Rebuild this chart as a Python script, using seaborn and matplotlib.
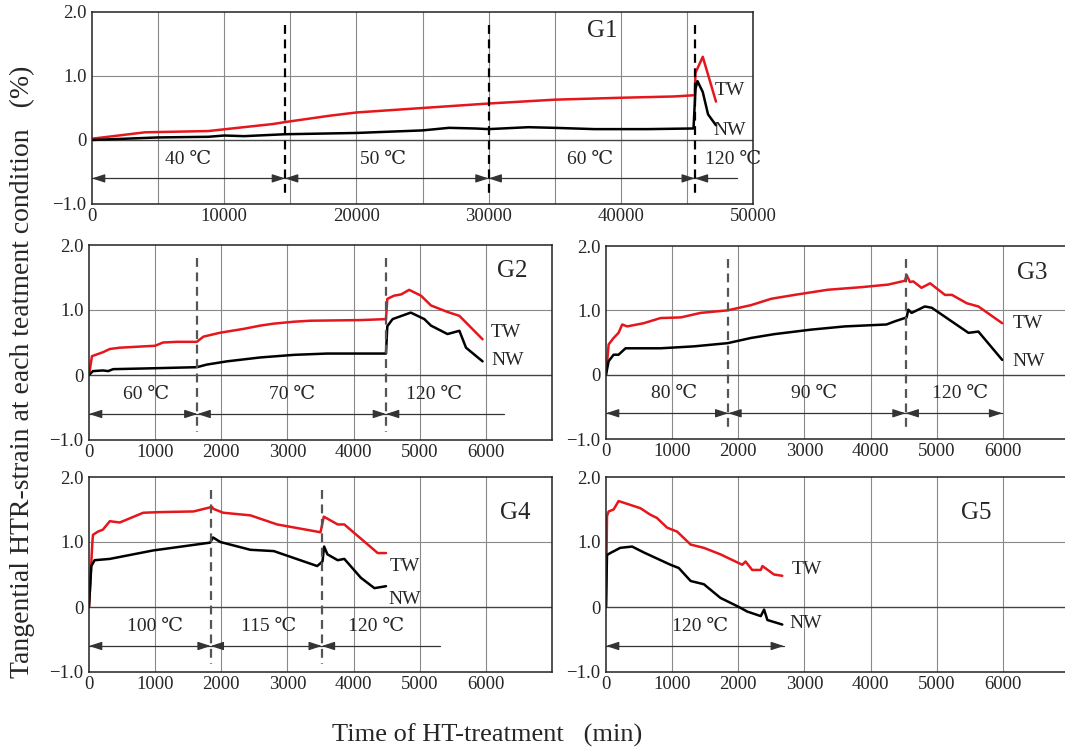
import matplotlib
matplotlib.use("Agg")
import numpy as np
import pandas as pd
import seaborn as sns
from matplotlib import pyplot as plt

# ---- data (time in min, strain in %) ----
G1_TW_X = [0, 4000, 8800, 13700, 14600, 18000, 20000, 25000, 30000, 35000, 40000, 44000, 45600, 45650, 46200, 47200]
G1_TW_Y = [0.02, 0.12, 0.14, 0.25, 0.28, 0.38, 0.43, 0.50, 0.57, 0.63, 0.66, 0.68, 0.70, 1.05, 1.30, 0.60]
G1_NW_X = [0, 5000, 8800, 10000, 11500, 14600, 20000, 25000, 27000, 29000, 30000, 33000, 35000, 38000, 42000, 45500, 45650, 45800, 46200, 46600, 47200]
G1_NW_Y = [0.0, 0.04, 0.05, 0.07, 0.06, 0.09, 0.11, 0.15, 0.19, 0.18, 0.17, 0.20, 0.19, 0.17, 0.17, 0.18, 0.80, 0.92, 0.75, 0.40, 0.23]

G2_TW_X = [0, 45, 210, 315, 465, 1000, 1120, 1325, 1630, 1730, 1980, 2340, 2590, 2790, 3100, 3350, 4110, 4490, 4510, 4610, 4720, 4840, 5020, 5170, 5420, 5600, 5950]
G2_TW_Y = [0, 0.29, 0.35, 0.40, 0.42, 0.45, 0.50, 0.51, 0.51, 0.59, 0.65, 0.71, 0.76, 0.79, 0.82, 0.835, 0.845, 0.86, 1.17, 1.22, 1.24, 1.31, 1.22, 1.07, 0.97, 0.91, 0.55]
G2_NW_X = [0, 60, 210, 290, 365, 820, 1630, 1780, 2085, 2590, 3100, 3600, 4490, 4510, 4590, 4865, 5070, 5170, 5420, 5600, 5700, 5950]
G2_NW_Y = [0, 0.06, 0.07, 0.06, 0.09, 0.10, 0.12, 0.16, 0.21, 0.27, 0.31, 0.33, 0.33, 0.75, 0.86, 0.96, 0.86, 0.76, 0.63, 0.68, 0.42, 0.21]

G3_TW_X = [0, 40, 115, 190, 245, 320, 570, 825, 1130, 1430, 1840, 2190, 2500, 2850, 3355, 3860, 4265, 4520, 4545, 4595, 4645, 4770, 4900, 5125, 5230, 5455, 5630, 5990]
G3_TW_Y = [0, 0.47, 0.57, 0.65, 0.78, 0.75, 0.80, 0.88, 0.89, 0.96, 1.00, 1.08, 1.18, 1.24, 1.32, 1.36, 1.40, 1.46, 1.55, 1.44, 1.45, 1.35, 1.42, 1.24, 1.24, 1.11, 1.06, 0.80]
G3_NW_X = [0, 40, 115, 190, 295, 825, 1330, 1840, 2190, 2545, 3100, 3610, 4240, 4370, 4545, 4570, 4620, 4820, 4925, 5480, 5630, 5990]
G3_NW_Y = [0, 0.21, 0.31, 0.31, 0.41, 0.41, 0.44, 0.49, 0.57, 0.63, 0.70, 0.75, 0.78, 0.83, 0.89, 1.01, 0.96, 1.06, 1.04, 0.65, 0.67, 0.23]

G4_TW_X = [0, 50, 60, 135, 210, 315, 465, 820, 1075, 1580, 1860, 1880, 2030, 2440, 2845, 3500, 3550, 3760, 3860, 4365, 4490]
G4_TW_Y = [0, 0.98, 1.11, 1.16, 1.19, 1.32, 1.30, 1.45, 1.46, 1.47, 1.54, 1.51, 1.45, 1.41, 1.27, 1.15, 1.39, 1.27, 1.27, 0.83, 0.83]
G4_NW_X = [0, 35, 85, 315, 970, 1830, 1875, 1985, 2440, 2795, 3450, 3530, 3555, 3605, 3760, 3860, 4110, 4315, 4490]
G4_NW_Y = [0, 0.63, 0.72, 0.74, 0.87, 0.99, 1.07, 1.00, 0.88, 0.86, 0.63, 0.70, 0.93, 0.81, 0.72, 0.74, 0.45, 0.29, 0.32]

G5_TW_X = [0, 15, 40, 115, 190, 520, 670, 770, 925, 1075, 1280, 1480, 1730, 2060, 2110, 2210, 2340, 2365, 2540, 2665]
G5_TW_Y = [0, 1.40, 1.47, 1.50, 1.63, 1.52, 1.42, 1.37, 1.22, 1.16, 0.96, 0.91, 0.81, 0.65, 0.70, 0.57, 0.57, 0.63, 0.50, 0.48]
G5_NW_X = [0, 15, 65, 215, 395, 570, 975, 1100, 1280, 1480, 1730, 2010, 2135, 2340, 2390, 2440, 2665]
G5_NW_Y = [0, 0.80, 0.83, 0.91, 0.93, 0.84, 0.65, 0.60, 0.40, 0.35, 0.14, 0.0, -0.07, -0.14, -0.04, -0.20, -0.27]

# stage boundaries (min) and treatment temperatures
G1_BOUNDS = [14600, 30000, 45600]
G2_BOUNDS = [1640, 4490]
G3_BOUNDS = [1850, 4530]
G4_BOUNDS = [1840, 3520]
G5_BOUNDS = []
G1_TEMPS = ['40 ℃', '50 ℃', '60 ℃', '120 ℃']
G2_TEMPS = ['60 ℃', '70 ℃', '120 ℃']
G3_TEMPS = ['80 ℃', '90 ℃', '120 ℃']
G4_TEMPS = ['100 ℃', '115 ℃', '120 ℃']
G5_TEMPS = ['120 ℃']

RED = '#e5161c'
W, H = 1065, 751


def px_rect(left, right, top, bottom):
    return [left / W, (H - bottom) / H, (right - left) / W, (bottom - top) / H]


def arrow(ax, x0, x1, y, heads, color):
    # horizontal dimension line, heads = (left, right)
    ax.plot([x0, x1], [y, y], color=color, lw=0.9)
    kw = dict(arrowstyle='-|>,head_length=0.55,head_width=0.18', color=color, lw=0.9,
              shrinkA=0, shrinkB=0, mutation_scale=14)
    span = (x1 - x0)
    d = 0.06 * span if span < 10000 else 0.03 * span
    if heads[0]:
        ax.annotate('', xy=(x0, y), xytext=(x0 + d, y), arrowprops=kw)
    if heads[1]:
        ax.annotate('', xy=(x1, y), xytext=(x1 - d, y), arrowprops=kw)


def panel(ax, tw_x, tw_y, nw_x, nw_y, xmax, xstep, label_step, name, name_xy,
          bounds, temps, temp_x, arrow_end, last_head, tw_xy, nw_xy, dash_color, right_spine=True):
    df_tw = pd.DataFrame({'t': tw_x, 's': tw_y})
    df_nw = pd.DataFrame({'t': nw_x, 's': nw_y})
    sns.lineplot(data=df_tw, x='t', y='s', ax=ax, color=RED, lw=1.8, sort=False, estimator=None)
    sns.lineplot(data=df_nw, x='t', y='s', ax=ax, color='black', lw=1.8, sort=False, estimator=None)

    ax.set_xlim(0, xmax)
    ax.set_ylim(-1.0, 2.0)
    xt = np.arange(0, xmax + 1, xstep)
    ax.set_xticks(xt)
    labels = []
    for v in xt:
        show = v % label_step == 0 and (xmax > 7000 or v < 7000)
        labels.append(f'{int(v)}' if show else '')
    ax.set_xticklabels(labels)
    ax.set_yticks([-1.0, 0, 1.0, 2.0])
    ax.set_yticklabels(['\u22121.0', '0', '1.0', '2.0'])
    ax.set_yticks([-0.5, 0.5, 1.5], minor=True)
    ax.tick_params(axis='y', which='major', direction='in', length=9, width=1.2, labelsize=13.5, pad=4)
    ax.tick_params(axis='y', which='minor', direction='in', length=6, width=1.2)
    ax.tick_params(axis='x', which='major', direction='in', length=6, width=1.2, labelsize=13.5, pad=3)
    ax.set_xlabel('')
    ax.set_ylabel('')

    for v in xt[1:]:
        if v < xmax:
            ax.axvline(v, color='#8a8a8a', lw=0.8, zorder=0)
    ax.axhline(1.0, color='#8a8a8a', lw=0.8, zorder=0)
    ax.axhline(0.0, color='#444444', lw=1.0, zorder=0)

    for s in ax.spines.values():
        s.set_color('#222222')
        s.set_linewidth(1.1)
    ax.spines['right'].set_visible(right_spine)

    for b in bounds:
        ax.plot([b, b], [1.8, -0.87], color=dash_color, lw=1.6, ls=(0, (4, 2.5)), zorder=3)

    edges = [0] + bounds + [arrow_end]
    for i in range(len(edges) - 1):
        last = i == len(edges) - 2
        arrow(ax, edges[i], edges[i + 1], -0.6, (True, (not last) or last_head), '#333333')
    for t, x in zip(temps, temp_x):
        ax.text(x, -0.3, t, ha='center', va='center', fontsize=14)

    ax.text(*name_xy, name, ha='center', va='center', fontsize=18)
    ax.text(*tw_xy, 'TW', ha='left', va='center', fontsize=14)
    ax.text(*nw_xy, 'NW', ha='left', va='center', fontsize=14)


sns.set_style('white')
plt.rcParams['font.family'] = ['Liberation Serif', 'DejaVu Serif', 'DejaVu Sans']
plt.rcParams['axes.unicode_minus'] = True

fig = plt.figure(figsize=(W / 100, H / 100), dpi=100)
ax1 = fig.add_axes(px_rect(92, 753, 12, 204))
ax2 = fig.add_axes(px_rect(89, 552, 245, 440))
ax3 = fig.add_axes(px_rect(606, 1069, 246, 439))
ax4 = fig.add_axes(px_rect(89, 552, 477, 672))
ax5 = fig.add_axes(px_rect(606, 1069, 477, 672))

panel(ax1, G1_TW_X, G1_TW_Y, G1_NW_X, G1_NW_Y, 50000, 5000, 10000, 'G1', (38600, 1.7),
      G1_BOUNDS, G1_TEMPS, [7300, 22000, 37700, 48500], 48800, False,
      (47100, 0.78), (47000, 0.15), 'black')
panel(ax2, G2_TW_X, G2_TW_Y, G2_NW_X, G2_NW_Y, 7000, 1000, 1000, 'G2', (6400, 1.6),
      G2_BOUNDS, G2_TEMPS, [870, 3070, 5220], 6280, False,
      (6080, 0.65), (6080, 0.22), '#555555')
panel(ax3, G3_TW_X, G3_TW_Y, G3_NW_X, G3_NW_Y, 7000, 1000, 1000, 'G3', (6450, 1.58),
      G3_BOUNDS, G3_TEMPS, [1030, 3150, 5350], 5990, True,
      (6150, 0.80), (6150, 0.20), '#555555', right_spine=False)
panel(ax4, G4_TW_X, G4_TW_Y, G4_NW_X, G4_NW_Y, 7000, 1000, 1000, 'G4', (6450, 1.45),
      G4_BOUNDS, G4_TEMPS, [1000, 2720, 4340], 5300, False,
      (4550, 0.63), (4520, 0.12), '#555555')
panel(ax5, G5_TW_X, G5_TW_Y, G5_NW_X, G5_NW_Y, 7000, 1000, 1000, 'G5', (5600, 1.45),
      G5_BOUNDS, G5_TEMPS, [1430], 2690, True,
      (2800, 0.58), (2780, -0.26), '#555555', right_spine=False)

fig.text(22 / W, (H - 372) / H, 'Tangential HTR-strain at each teatment condition   (%)',
         rotation=90, ha='center', va='center', fontsize=20)
fig.text(487 / W, (H - 735) / H, 'Time of HT-treatment   (min)', ha='center', va='center', fontsize=19)

fig.savefig('out.png', dpi=100)
